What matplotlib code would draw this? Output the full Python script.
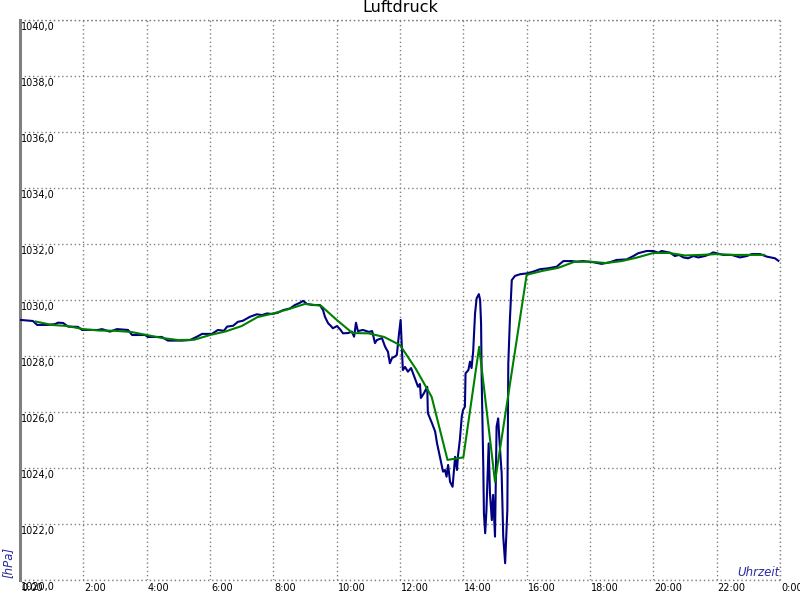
import matplotlib
matplotlib.use("Agg")
import matplotlib.pyplot as plt
import matplotlib.transforms as mtransforms

# raw readings (hours, hPa)
raw_time = [0.00, 0.41, 0.54, 0.88, 1.11, 1.20, 1.36, 1.52, 1.83, 1.96,
            2.46, 2.59, 2.84, 3.06, 3.41, 3.54, 3.95, 4.04, 4.48, 4.67,
            5.12, 5.37, 5.59, 5.75, 6.06, 6.25, 6.44, 6.54, 6.73, 6.88,
            7.04, 7.26, 7.48, 7.64, 7.80, 7.96, 8.15, 8.31, 8.53, 8.68,
            8.84, 8.94, 9.06, 9.25, 9.47, 9.57, 9.63, 9.73, 9.82, 9.88,
            10.01, 10.11, 10.20, 10.36, 10.48, 10.55, 10.61, 10.67, 10.83, 11.02,
            11.12, 11.21, 11.27, 11.43, 11.53, 11.62, 11.68, 11.75, 11.84, 11.90,
            11.97, 12.02, 12.09, 12.16, 12.25, 12.35, 12.47, 12.57, 12.63, 12.66,
            12.76, 12.86, 12.88, 13.01, 13.11, 13.17, 13.26, 13.36, 13.42, 13.47,
            13.52, 13.58, 13.66, 13.74, 13.80, 13.83, 13.89, 13.95, 13.99, 14.05,
            14.07, 14.16, 14.21, 14.26, 14.31, 14.37, 14.42, 14.49, 14.53, 14.56,
            14.58, 14.63, 14.65, 14.69, 14.73, 14.76, 14.80, 14.84, 14.90, 14.94,
            15.00, 15.05, 15.10, 15.14, 15.21, 15.26, 15.32, 15.35, 15.39, 15.42,
            15.47, 15.53, 15.63, 15.79, 16.00, 16.20, 16.42, 16.67, 16.95, 17.05,
            17.16, 17.42, 17.58, 17.78, 18.10, 18.37, 18.63, 18.84, 19.16, 19.37,
            19.52, 19.79, 20.00, 20.16, 20.26, 20.53, 20.68, 20.81, 20.95, 21.10,
            21.26, 21.42, 21.63, 21.79, 21.89, 22.00, 22.21, 22.47, 22.74, 22.95,
            23.11, 23.37, 23.58, 23.84, 23.95]
raw_hpa = [1029.29, 1029.25, 1029.11, 1029.11, 1029.14, 1029.19, 1029.18, 1029.05, 1029.04, 1028.93,
           1028.93, 1028.96, 1028.87, 1028.96, 1028.93, 1028.75, 1028.75, 1028.68, 1028.68, 1028.55,
           1028.55, 1028.57, 1028.69, 1028.79, 1028.79, 1028.93, 1028.90, 1029.05, 1029.08, 1029.22,
           1029.26, 1029.40, 1029.49, 1029.46, 1029.52, 1029.50, 1029.55, 1029.64, 1029.70, 1029.82,
           1029.90, 1029.97, 1029.86, 1029.82, 1029.82, 1029.64, 1029.40, 1029.17, 1029.07, 1028.99,
           1029.07, 1028.95, 1028.81, 1028.82, 1028.87, 1028.69, 1029.19, 1028.89, 1028.93, 1028.86,
           1028.89, 1028.46, 1028.57, 1028.64, 1028.33, 1028.15, 1027.74, 1027.93, 1027.98, 1028.04,
           1028.81, 1029.29, 1027.50, 1027.61, 1027.44, 1027.57, 1027.20, 1026.90, 1027.00, 1026.50,
           1026.68, 1026.90, 1025.96, 1025.60, 1025.30, 1024.88, 1024.40, 1023.87, 1023.93, 1023.69,
           1024.11, 1023.51, 1023.33, 1024.40, 1023.93, 1024.43, 1025.00, 1025.83, 1026.07, 1026.19,
           1027.38, 1027.50, 1027.80, 1027.57, 1028.15, 1029.52, 1030.06, 1030.21, 1030.00, 1029.17,
           1027.14, 1024.05, 1022.38, 1021.67, 1022.50, 1023.57, 1024.88, 1023.11, 1022.14, 1023.04,
           1021.55, 1025.48, 1025.77, 1025.00, 1023.81, 1021.55, 1020.60, 1021.43, 1022.50, 1027.74,
           1029.29, 1030.71, 1030.86, 1030.92, 1030.95, 1031.01, 1031.10, 1031.13, 1031.19, 1031.29,
           1031.39, 1031.39, 1031.37, 1031.39, 1031.35, 1031.29, 1031.35, 1031.43, 1031.45, 1031.57,
           1031.67, 1031.75, 1031.75, 1031.69, 1031.75, 1031.69, 1031.57, 1031.61, 1031.52, 1031.49,
           1031.57, 1031.52, 1031.57, 1031.64, 1031.70, 1031.67, 1031.61, 1031.61, 1031.52, 1031.57,
           1031.64, 1031.64, 1031.55, 1031.49, 1031.40]

# smoothed curve, half-hour points
avg_time = [0.5, 1.0, 1.5, 2.0, 2.5, 3.0, 3.5, 4.0, 4.5, 5.0,
            5.5, 6.0, 6.5, 7.0, 7.5, 8.0, 8.5, 9.0, 9.5, 10.0,
            10.5, 11.0, 11.5, 12.0, 12.5, 13.0, 13.5, 14.0, 14.5, 15.0,
            16.0, 16.5, 17.0, 17.5, 18.0, 18.5, 19.0, 19.5, 20.0, 20.5,
            21.0, 21.5, 22.0, 22.5, 23.0, 23.5]
avg_hpa = [1029.23, 1029.11, 1029.07, 1028.96, 1028.91, 1028.90, 1028.86, 1028.75, 1028.64, 1028.57,
           1028.58, 1028.75, 1028.88, 1029.07, 1029.39, 1029.52, 1029.68, 1029.86, 1029.80, 1029.29,
           1028.82, 1028.81, 1028.68, 1028.39, 1027.54, 1026.54, 1024.29, 1024.38, 1028.33, 1023.51,
           1030.90, 1031.04, 1031.15, 1031.36, 1031.37, 1031.32, 1031.39, 1031.52, 1031.68, 1031.68,
           1031.59, 1031.61, 1031.64, 1031.61, 1031.61, 1031.61]

hour_ticks = [0, 2, 4, 6, 8, 10, 12, 14, 16, 18, 20, 22, 24]
hour_labels = ["0:00", "2:00", "4:00", "6:00", "8:00", "10:00", "12:00",
               "14:00", "16:00", "18:00", "20:00", "22:00", "0:00"]
hpa_ticks = [1020, 1022, 1024, 1026, 1028, 1030, 1032, 1034, 1036, 1038, 1040]

fig = plt.figure(figsize=(8, 6), dpi=100)
ax = fig.add_axes([0.025, 0.0333, 0.95, 0.9334])

ax.plot(raw_time, raw_hpa, color="#000080", lw=1.5, zorder=3)
ax.plot(avg_time, avg_hpa, color="#008000", lw=1.5, zorder=4)

ax.set_xlim(0, 24)
ax.set_ylim(1020, 1040)
ax.set_xticks(hour_ticks)
ax.set_yticks(hpa_ticks)
ax.set_xticklabels([])
ax.set_yticklabels([])
ax.tick_params(length=0)
ax.grid(True, color="#808080", linestyle=(0, (1, 2)), linewidth=1)

for side in ["top", "right", "bottom"]:
    ax.spines[side].set_visible(False)
ax.spines["left"].set_color("#808080")
ax.spines["left"].set_linewidth(2.2)

# border lines drawn like the grid
ax.axhline(1040, color="#808080", linestyle=(0, (1, 2)), lw=1, clip_on=False)
ax.axhline(1020, color="#808080", linestyle=(0, (1, 2)), lw=1, clip_on=False)
ax.axvline(24, color="#808080", linestyle=(0, (1, 2)), lw=1, clip_on=False)

# y labels inside the plot, just below each grid line
ytrans = mtransforms.blended_transform_factory(ax.transAxes, ax.transData)
ytrans = ytrans + mtransforms.ScaledTranslation(1 / 100, -2 / 100, fig.dpi_scale_trans)
for v in hpa_ticks:
    ax.text(0, v, f"{v:.1f}".replace(".", ","), transform=ytrans,
            ha="left", va="top", fontsize=7, clip_on=False)

# x labels below the axis, to the right of each grid line
xtrans = mtransforms.blended_transform_factory(ax.transData, ax.transAxes)
xtrans = xtrans + mtransforms.ScaledTranslation(1 / 100, -3 / 100, fig.dpi_scale_trans)
for t, lab in zip(hour_ticks, hour_labels):
    ax.text(t, 0, lab, transform=xtrans, ha="left", va="top", fontsize=7, clip_on=False)

fig.text(400 / 800, 1 - 8 / 600, "Luftdruck", ha="center", va="center", fontsize=11.5)
fig.text(8 / 800, 1 - 562 / 600, "[hPa]", rotation=90, ha="center", va="center",
         fontsize=8.5, style="italic", color="#2a2aa0")
fig.text(780 / 800, 1 - 572 / 600, "Uhrzeit", ha="right", va="center",
         fontsize=8.5, style="italic", color="#2a2aa0")

plt.savefig("out.png", dpi=100)
